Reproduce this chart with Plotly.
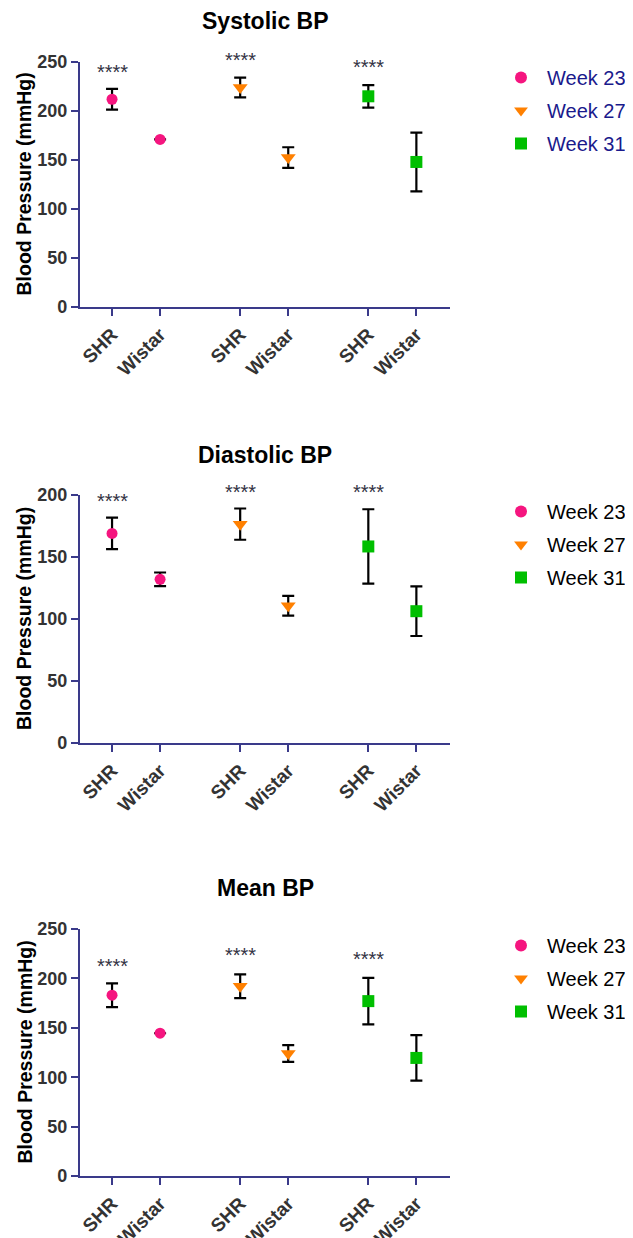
import plotly.graph_objects as go

# ---------------- data ----------------
weeks = ["Week 23", "Week 27", "Week 31"]
strains = ["SHR", "Wistar"]
panel_titles = ["Systolic BP", "Diastolic BP", "Mean BP"]

systolic_mean = [[212, 171], [224, 152.5], [215, 148]]
systolic_err = [[10.5, None], [10, 10.5], [11.5, 30]]
diastolic_mean = [[169, 132], [176.5, 110.7], [158.5, 106.3]]
diastolic_err = [[12.7, 5.5], [12.6, 8], [30, 20]]
mean_mean = [[183, 144.5], [192, 124], [177, 119.5]]
mean_err = [[12, None], [12, 8.5], [23.5, 23]]

sig_label = "****"
systolic_sig_y = [243.5, 256, 249]
diastolic_sig_y = [198, 205.5, 205.5]
mean_sig_y = [217, 228, 224]

y_ticks_250 = [0, 50, 100, 150, 200, 250]
y_ticks_200 = [0, 50, 100, 150, 200]
y_title = "Blood Pressure (mmHg)"

# ---------------- style ----------------
W, H = 633, 1238
OFF = 8  # page body margin in the browser
colors = ["#F5157F", "#FF8000", "#00BF00"]
symbols = ["circle", "triangle-down", "square"]
sizes = [11, 13, 12]
axis_col = "#3A3A8A"
tick_font_col = "#333333"
FONT = "Liberation Sans, Arial, sans-serif"
GAP = 0.667

def px_y(p):
    return (H - (p - OFF)) / H

def px_x(p):
    return (p - OFF) / W

panels = [
    dict(mean=systolic_mean, err=systolic_err, sig=systolic_sig_y, ymax=250, ticks=y_ticks_250,
         top=62, bottom=307, title_y=21, legend_top=58, legend_col="#1A1A8C"),
    dict(mean=diastolic_mean, err=diastolic_err, sig=diastolic_sig_y, ymax=200, ticks=y_ticks_200,
         top=495, bottom=743, title_y=455, legend_top=492, legend_col="#000000"),
    dict(mean=mean_mean, err=mean_err, sig=mean_sig_y, ymax=250, ticks=y_ticks_250,
         top=929, bottom=1176, title_y=888, legend_top=926, legend_col="#000000"),
]

fig = go.Figure()
annotations = []
layout_extra = {}

x_left, x_right = 80, 450
for pi, p in enumerate(panels):
    sfx = "" if pi == 0 else str(pi + 1)
    xa, ya = "x" + sfx, "y" + sfx
    leg = "legend" + sfx
    tickvals, ticktext = [], []
    for g, wk in enumerate(weeks):
        xs = [g * (len(strains) + GAP) + i for i in range(len(strains))]
        tickvals += xs
        ticktext += strains
        fig.add_trace(go.Scatter(
            x=xs, y=p["mean"][g], mode="markers", name=wk,
            xaxis=xa, yaxis=ya, legend=leg, legendgroup=f"{pi}-{g}",
            marker=dict(color=colors[g], symbol=symbols[g], size=sizes[g], line=dict(width=0)),
            error_y=dict(type="data", array=p["err"][g], visible=True, color="black",
                         thickness=2.2, width=6),
            cliponaxis=False,
        ))
        annotations.append(dict(
            x=xs[0], y=p["sig"][g] / p["ymax"], xref=xa, yref=ya + " domain", text=sig_label,
            showarrow=False,
            font=dict(family=FONT, size=20, color="#333344"), yanchor="middle", yshift=-4,
        ))
    xmin = -GAP
    xmax = tickvals[-1] + 0.7
    layout_extra["xaxis" + sfx] = dict(
        domain=[px_x(x_left), px_x(x_right)], anchor=ya, range=[xmin, xmax],
        tickvals=tickvals, ticktext=ticktext, tickangle=-45, automargin=False,
        showline=True, linecolor=axis_col, linewidth=2.2,
        ticks="outside", ticklen=7, tickwidth=2.2, tickcolor=axis_col,
        showgrid=False, zeroline=False,
        tickfont=dict(family=FONT, size=19, color=tick_font_col, weight="bold"),
    )
    layout_extra["yaxis" + sfx] = dict(
        domain=[px_y(p["bottom"]), px_y(p["top"])], anchor=xa, range=[0, p["ymax"]],
        tickvals=p["ticks"], automargin=False,
        showline=True, linecolor=axis_col, linewidth=2.2,
        ticks="outside", ticklen=7, tickwidth=2.2, tickcolor=axis_col,
        showgrid=False, zeroline=False,
        tickfont=dict(family=FONT, size=18, color=tick_font_col, weight="bold"),
    )
    # y-axis title
    annotations.append(dict(
        x=px_x(24), y=0.5, xref="paper", yref=ya + " domain", text=y_title, textangle=-90,
        showarrow=False, xanchor="center", yanchor="middle",
        font=dict(family=FONT, size=19.5, color="black", weight="bold"),
    ))
    layout_extra[leg] = dict(
        x=px_x(495), xanchor="left", y=px_y(p["legend_top"]), yanchor="top",
        font=dict(family=FONT, size=20, color=p["legend_col"]),
        bgcolor="rgba(0,0,0,0)", tracegroupgap=4, itemsizing="constant", itemwidth=42,
    )
    annotations.append(dict(
        x=px_x(265), y=px_y(p["title_y"]), xref="paper", yref="paper", text=panel_titles[pi],
        showarrow=False, xanchor="center", yanchor="middle",
        font=dict(family=FONT, size=23, color="black", weight="bold"),
    ))

fig.update_layout(
    width=W, height=H, margin=dict(l=0, r=0, t=0, b=0, autoexpand=False),
    paper_bgcolor="white", plot_bgcolor="white",
    annotations=annotations, showlegend=True,
    **layout_extra,
)

fig.write_html("out.html")
